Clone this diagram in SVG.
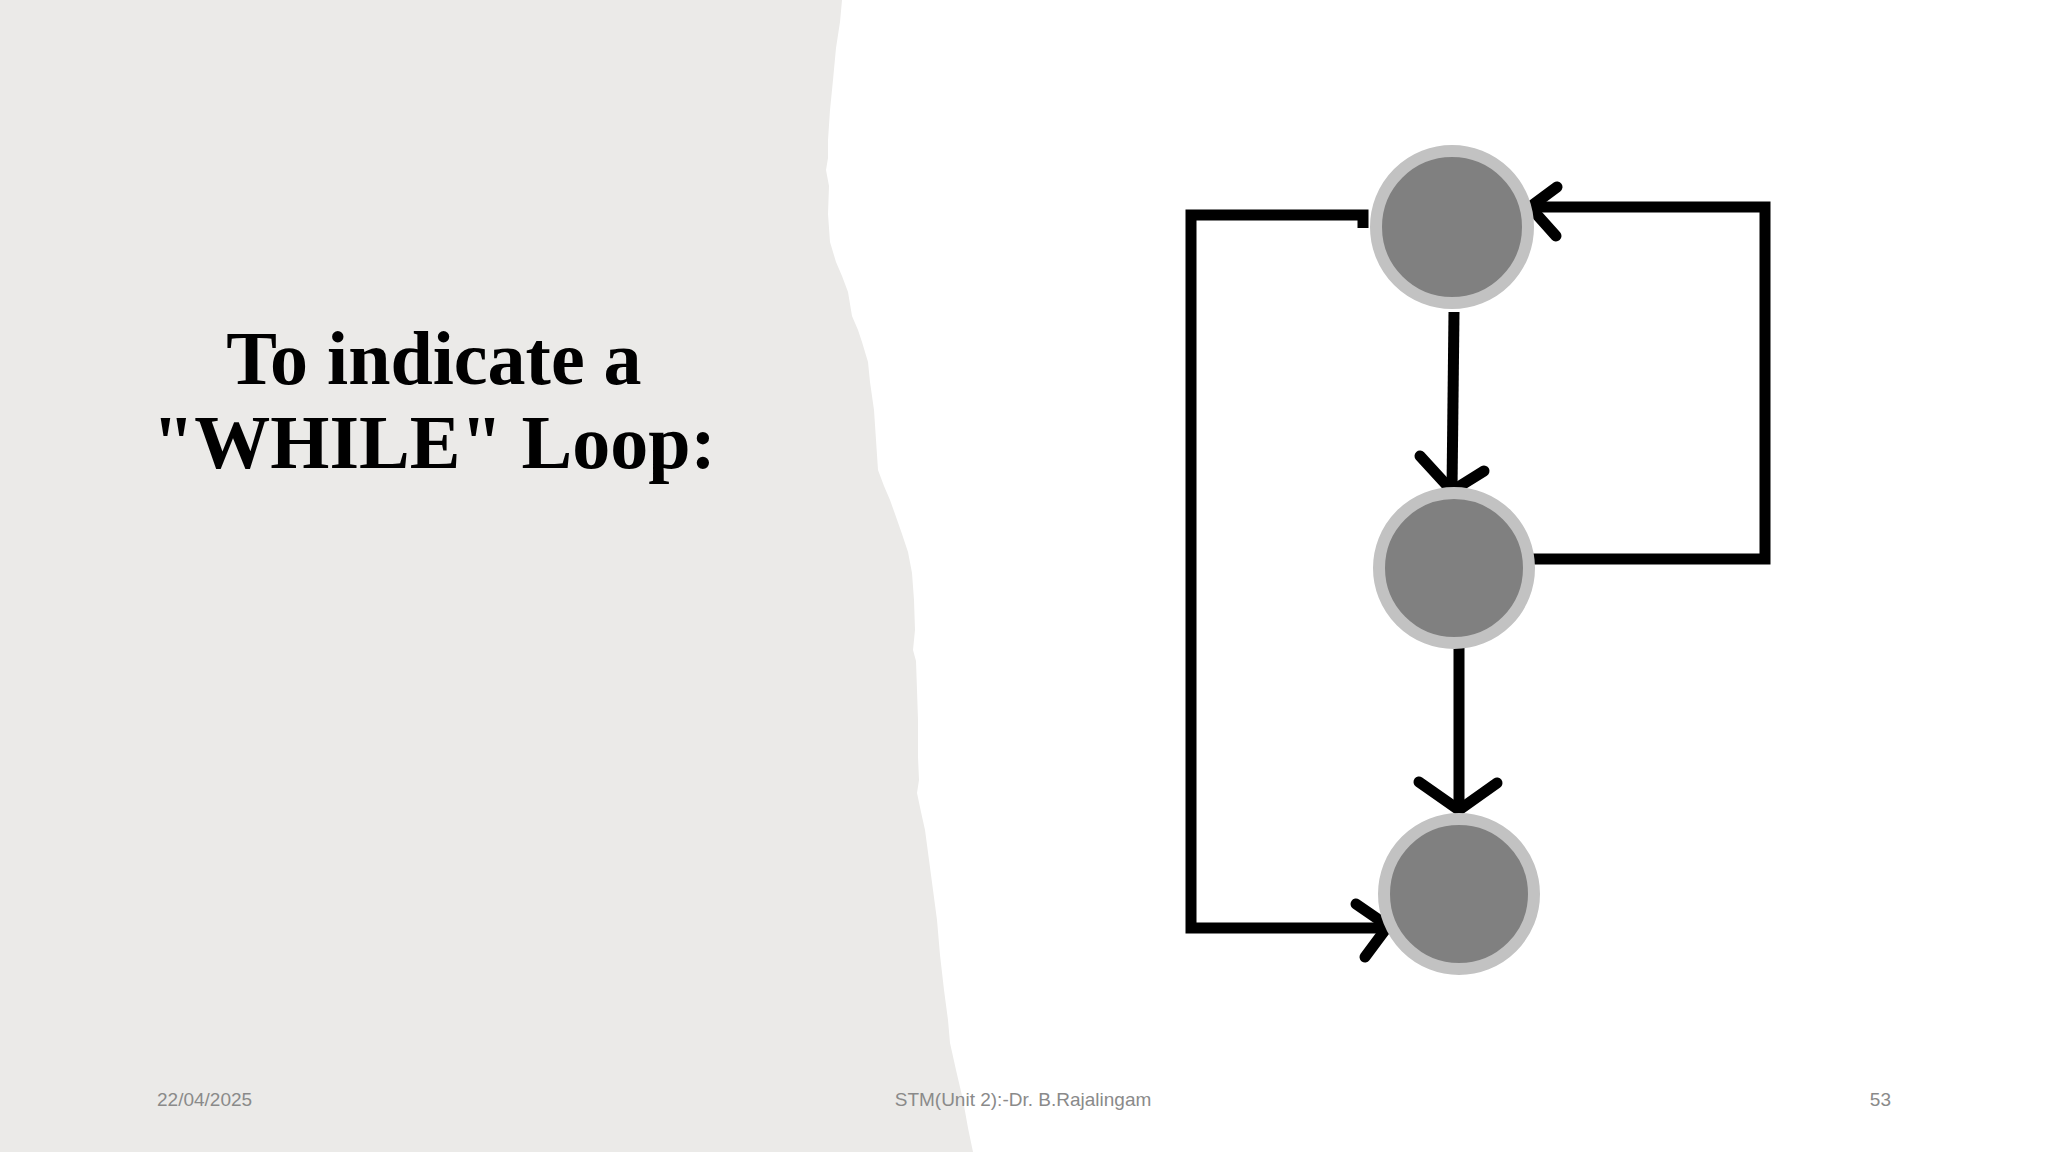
<svg xmlns="http://www.w3.org/2000/svg" width="2048" height="1152" viewBox="0 0 2048 1152">
  <defs>
    <style>
      .title { font-family: "Liberation Serif", "Times New Roman", serif; font-weight: bold; font-size: 76px; fill: #000; text-anchor: middle; }
      .footer { font-family: "Liberation Sans", Arial, sans-serif; font-size: 19px; fill: #8a8a8a; }
      .ring { fill: #808080; stroke: #c2c2c2; stroke-width: 12; }
      .edge { fill: none; stroke: #000; stroke-width: 11; stroke-linejoin: miter; stroke-linecap: butt; }
      .head { fill: none; stroke: #000; stroke-width: 11; stroke-linejoin: miter; stroke-linecap: round; }
    </style>
  </defs>
  <rect x="0" y="0" width="2048" height="1152" fill="#ffffff"/>
  <path id="torn-panel" fill="#ebeae8" d="M0,0 L842,0 L840,22 L836,48 L833,80 L830,110 L828,140 L828,158 L826,170 L829,186 L828,214 L830,242 L836,262 L842,276 L848,292 L852,316 L858,330 L862,342 L868,362 L870,382 L874,410 L876,440 L878,470 L884,486 L890,500 L895,514 L902,534 L908,552 L912,573 L914,600 L915,630 L913,650 L916,661 L917,690 L918,720 L918,757 L919,780 L917,793 L921,812 L925,830 L929,860 L933,890 L937,920 L940,955 L944,990 L948,1020 L950,1043 L956,1070 L963,1100 L968,1128 L973,1152 L0,1152 Z"/>

  <g id="title">
    <text class="title" x="434" y="384">To indicate a</text>
    <text class="title" x="434" y="468">"WHILE" Loop:</text>
  </g>

  <g id="connectors">
    <line class="edge" x1="1454" y1="312" x2="1452" y2="489"/>
    <polyline class="head" points="1420,456 1452,491 1484,471"/>
    <line class="edge" x1="1459" y1="645" x2="1459" y2="808"/>
    <polyline class="head" points="1419,782 1459,810 1497,783"/>
    <path class="edge" d="M1533,559 L1765,559 L1765,207 L1532,207"/>
    <polyline class="head" points="1557,187 1530,207 1556,236"/>
    <path class="edge" d="M1363,228 L1363,215 L1191,215 L1191,928 L1386,928"/>
    <polyline class="head" points="1356,904 1388,926 1365,957"/>
  </g>

  <g id="node1"><circle class="ring" cx="1452" cy="227" r="76"/></g>
  <g id="node2"><circle class="ring" cx="1454" cy="568" r="75"/></g>
  <g id="node3"><circle class="ring" cx="1459" cy="894" r="75"/></g>

  <g id="footer">
    <text class="footer" x="157" y="1106">22/04/2025</text>
    <text class="footer" x="1023" y="1106" text-anchor="middle">STM(Unit 2):-Dr. B.Rajalingam</text>
    <text class="footer" x="1891" y="1106" text-anchor="end">53</text>
  </g>
</svg>
